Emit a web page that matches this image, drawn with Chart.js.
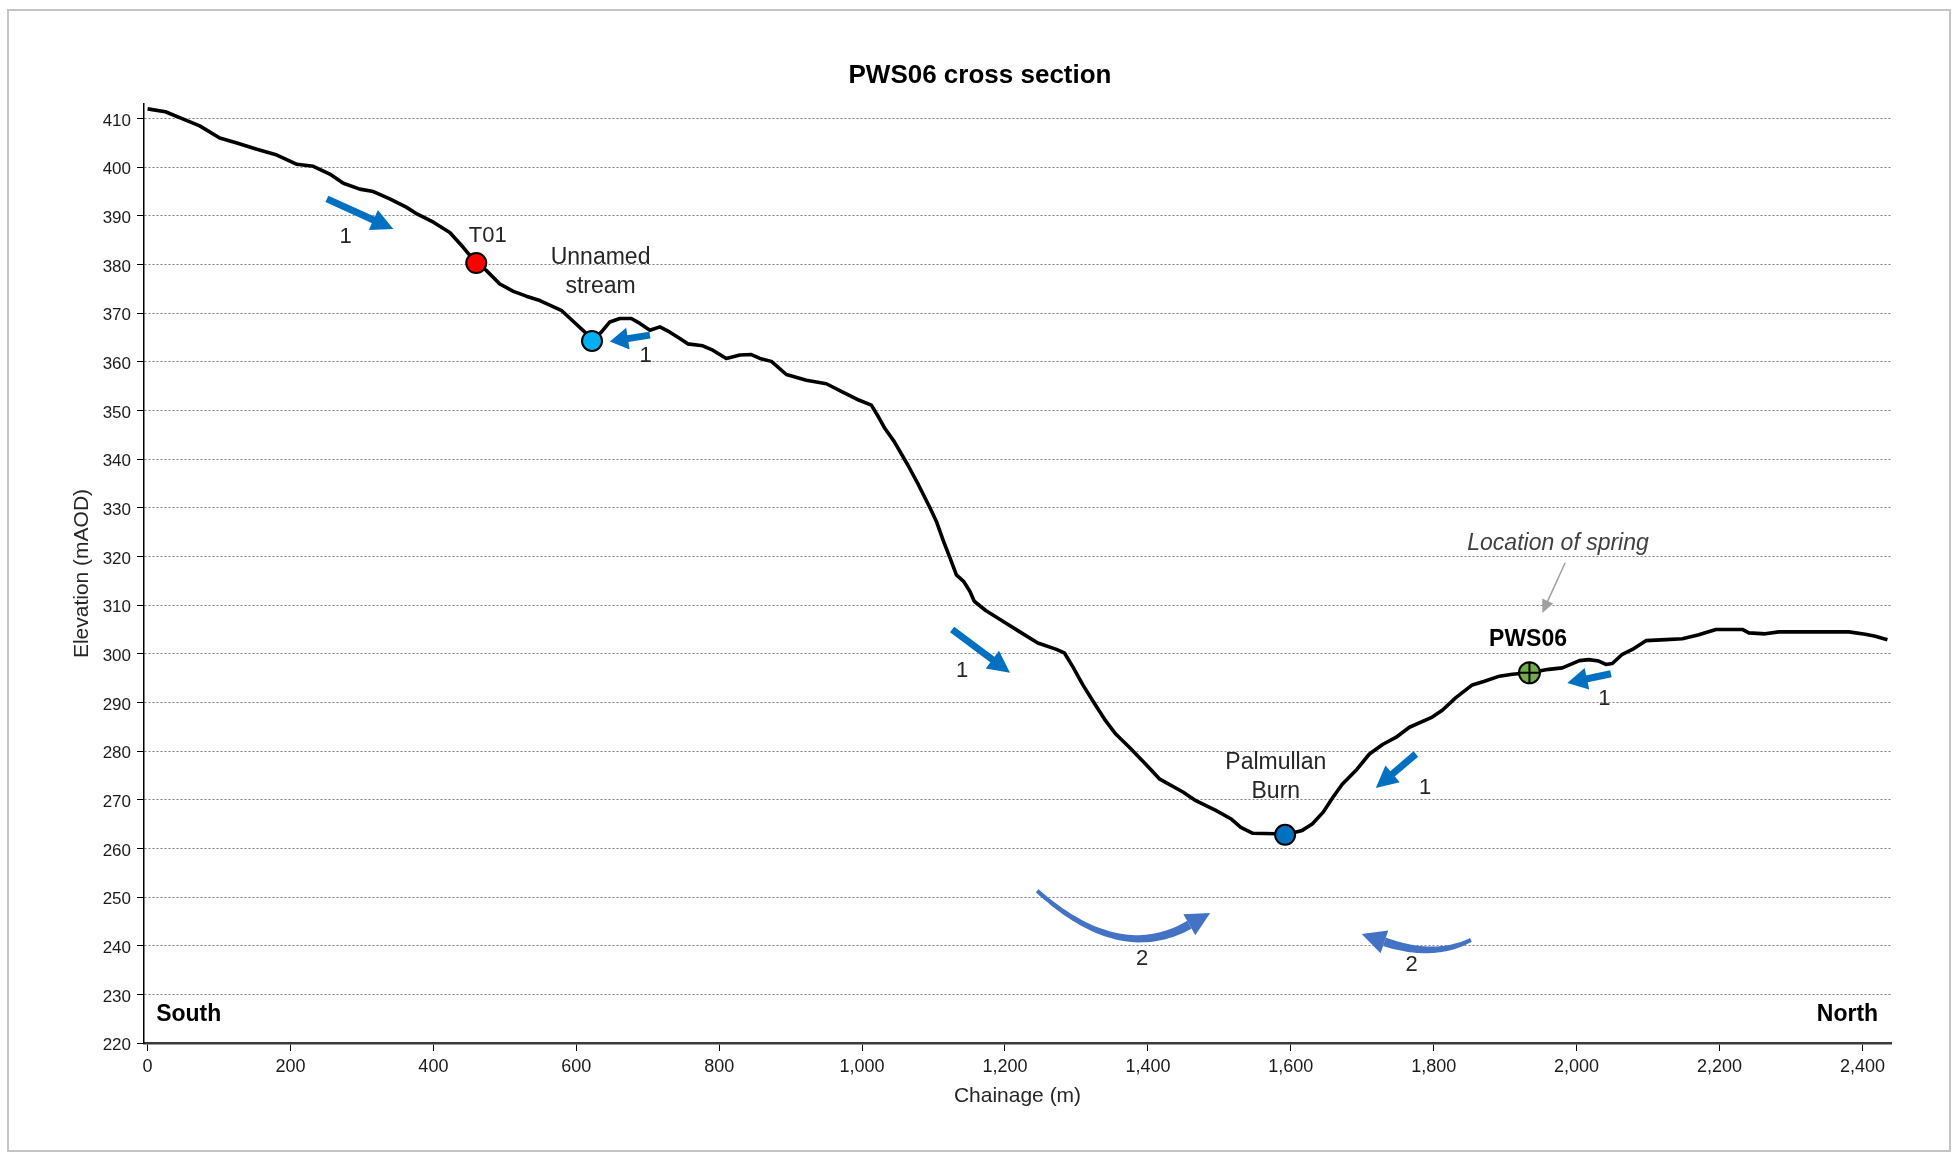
<!DOCTYPE html>
<html>
<head>
<meta charset="utf-8">
<title>PWS06 cross section</title>
<script src="https://cdn.jsdelivr.net/npm/chart.js@4.4.1/dist/chart.umd.min.js"></script>
<style>
  html, body { margin: 0; padding: 0; background: #fff; }
  #section { position: absolute; left: 0; top: 0; }
  #frame {
    position: absolute; left: 7px; top: 9px; width: 1944px; height: 1143px;
    border: 2px solid #c4c4c4; box-sizing: border-box; pointer-events: none;
  }
</style>
</head>
<body>
<canvas id="section" width="1960" height="1153"></canvas>
<div id="frame"></div>
<script>
// Ground profile along the section (chainage in m, elevation in mAOD)
const chainage = [0, 25, 50, 73, 101, 125, 153, 181, 209, 232, 255, 274, 297, 316, 339, 362, 377, 400, 423, 442,
  460, 474, 493, 512, 530, 549, 579, 596, 612, 622, 635, 647, 661, 677, 689, 703, 717, 731, 745, 756,
  777, 791, 810, 829, 845, 857, 873, 894, 922, 950, 973, 996, 1013, 1024, 1032, 1045, 1064, 1079, 1095, 1104,
  1114, 1123, 1132, 1142, 1151, 1157, 1173, 1197, 1223, 1246, 1272, 1283, 1295, 1309, 1323, 1341, 1355, 1374, 1397, 1416,
  1449, 1467, 1495, 1516, 1530, 1547, 1579, 1592, 1616, 1630, 1645, 1659, 1672, 1691, 1710, 1729, 1747, 1766, 1798, 1812,
  1831, 1854, 1870, 1892, 1910, 1934, 1961, 1980, 2004, 2017, 2031, 2041, 2050, 2064, 2078, 2097, 2125, 2148, 2171, 2195,
  2232, 2241, 2264, 2283, 2381, 2404, 2418, 2435];
const elevation = [412.0, 411.4, 409.9, 408.5, 406.0, 405.0, 403.7, 402.5, 400.6, 400.2, 398.6, 396.7, 395.5, 395.0, 393.5, 391.8, 390.4, 388.7, 386.6, 383.5,
  380.3, 378.8, 376.0, 374.5, 373.5, 372.6, 370.6, 368.3, 366.1, 364.3, 366.1, 368.2, 368.9, 368.9, 367.9, 366.5, 367.2, 366.1, 364.8, 363.7,
  363.3, 362.4, 360.7, 361.4, 361.5, 360.7, 360.1, 357.4, 356.2, 355.5, 353.8, 352.1, 351.1, 348.4, 346.3, 343.6, 338.8, 334.7, 330.0, 327.2,
  323.1, 319.7, 316.2, 314.9, 312.8, 310.8, 308.9, 306.7, 304.3, 302.2, 300.9, 300.2, 297.3, 293.6, 290.3, 286.2, 283.5, 280.8, 277.3, 274.3,
  271.6, 269.8, 267.8, 266.1, 264.3, 263.1, 263.0, 262.8, 263.7, 265.0, 267.4, 270.5, 273.2, 276.0, 279.4, 281.4, 282.8, 284.9, 287.0, 288.4,
  291.0, 293.6, 294.3, 295.4, 295.8, 296.1, 296.8, 297.1, 298.6, 298.8, 298.5, 297.8, 298.0, 299.9, 300.9, 302.7, 302.9, 303.1, 303.9, 305.0,
  305.0, 304.3, 304.1, 304.5, 304.5, 304.0, 303.6, 302.9];

// Features picked out on the section
const siteNames = ["T01", "Unnamed stream", "Palmullan Burn", "PWS06"];
const siteChainage = [460, 622, 1592, 1934];
const siteElevation = [380.3, 364.3, 262.8, 296.1];

// Axis ticks
const chainageTicks = [0, 200, 400, 600, 800, 1000, 1200, 1400, 1600, 1800, 2000, 2200, 2400];
const elevationTicks = [220, 230, 240, 250, 260, 270, 280, 290, 300, 310, 320, 330, 340, 350, 360, 370, 380, 390, 400, 410];

// Label anchors [chainage, elevation]
const siteLabelAt = [[476, 386.7], [634, 379.2], [1579, 275.4], [1932, 303.7]];
const springNote = "Location of spring";
const springNoteAt = [1974, 323.4];
const springPointer = [[1984, 318.7], [1952, 308.4]];
const endNames = ["South", "North"];
const endNameAt = [[12, 226.6], [2422, 226.6]];

// Flow directions: shallow (1) straight arrows, deep (2) curved arrows
const shallowFrom = [[251, 393.5], [703, 365.5], [1126, 305.0], [1775, 279.4], [2048, 295.9]];
const shallowTo = [[344, 387.3], [647, 364.2], [1207, 296.1], [1719, 272.4], [1987, 294.0]];
const shallowLabelAt = [[277, 386.3], [697, 362.0], [1140, 297.2], [1788, 273.2], [2039, 291.5]];
const deepPaths = [
  [[1245, 251.3], [1360, 236.1], [1458, 244.3]],
  [[1852, 241.2], [1801, 237.3], [1731, 240.8]]
];
const deepLabelAt = [[1392, 238.1], [1769, 236.7]];

const FONT = "'Liberation Sans', Arial, sans-serif";
Chart.defaults.font.family = FONT;
Chart.defaults.color = "#1a1a1a";

// "middle" baseline sits a little high for this font
const TEXT_DROP = 3.5;

function straightArrow(ctx, a, b, colour, shaft, headLen, headHalf) {
  const ang = Math.atan2(b[1] - a[1], b[0] - a[0]);
  const c = Math.cos(ang), s = Math.sin(ang);
  const bx = b[0] - c * headLen, by = b[1] - s * headLen;
  ctx.strokeStyle = colour;
  ctx.lineWidth = shaft;
  ctx.lineCap = "butt";
  ctx.beginPath();
  ctx.moveTo(a[0], a[1]);
  ctx.lineTo(bx + c * 2, by + s * 2);
  ctx.stroke();
  ctx.fillStyle = colour;
  ctx.beginPath();
  ctx.moveTo(b[0], b[1]);
  ctx.lineTo(bx - s * headHalf, by + c * headHalf);
  ctx.lineTo(bx + s * headHalf, by - c * headHalf);
  ctx.closePath();
  ctx.fill();
}

// quadratic curve that thickens towards its head
function curvedArrow(ctx, p0, cp, p2, colour) {
  const left = [], right = [];
  const n = 40;
  for (let i = 0; i <= n; i++) {
    const t = i / n, u = 1 - t;
    const x = u * u * p0[0] + 2 * t * u * cp[0] + t * t * p2[0];
    const y = u * u * p0[1] + 2 * t * u * cp[1] + t * t * p2[1];
    const dx = 2 * u * (cp[0] - p0[0]) + 2 * t * (p2[0] - cp[0]);
    const dy = 2 * u * (cp[1] - p0[1]) + 2 * t * (p2[1] - cp[1]);
    const len = Math.hypot(dx, dy) || 1;
    const w = (4 + 5 * t) / 2;
    left.push([x - dy / len * w, y + dx / len * w]);
    right.push([x + dy / len * w, y - dx / len * w]);
  }
  ctx.fillStyle = colour;
  ctx.beginPath();
  ctx.moveTo(left[0][0], left[0][1]);
  left.forEach(p => ctx.lineTo(p[0], p[1]));
  right.reverse().forEach(p => ctx.lineTo(p[0], p[1]));
  ctx.closePath();
  ctx.fill();

  const dx = p2[0] - cp[0], dy = p2[1] - cp[1];
  const len = Math.hypot(dx, dy);
  const c = dx / len, s = dy / len;
  const tip = [p2[0] + c * 24, p2[1] + s * 24];
  ctx.beginPath();
  ctx.moveTo(tip[0], tip[1]);
  ctx.lineTo(p2[0] - s * 12, p2[1] + c * 12);
  ctx.lineTo(p2[0] + s * 12, p2[1] - c * 12);
  ctx.closePath();
  ctx.fill();
}

// Labels and flow arrows placed in chainage/elevation units
const sectionNotes = {
  id: "sectionNotes",
  afterDatasetsDraw(chart) {
    const { ctx, scales: { x, y } } = chart;
    const px = p => [x.getPixelForValue(p[0]), y.getPixelForValue(p[1])];
    const text = (str, p) => ctx.fillText(str, p[0], p[1] + TEXT_DROP);
    ctx.save();
    ctx.textAlign = "center";
    ctx.textBaseline = "middle";

    // site names
    siteNames.forEach((name, i) => {
      const [cx, cy] = px(siteLabelAt[i]);
      if (name === "PWS06") {
        ctx.font = "bold 23px " + FONT;
        ctx.fillStyle = "#000";
        text(name, [cx, cy]);
        return;
      }
      ctx.font = (i === 0 ? "22px " : "23px ") + FONT;
      ctx.fillStyle = "#262626";
      const lines = i === 0 ? [name] : name.split(" ");
      lines.forEach((ln, k) => text(ln, [cx, cy + (k - (lines.length - 1) / 2) * 29.5]));
    });

    // spring note with grey pointer
    ctx.font = "italic 23px " + FONT;
    ctx.fillStyle = "#404040";
    text(springNote, px(springNoteAt));
    straightArrow(ctx, px(springPointer[0]), px(springPointer[1]), "#a0a0a0", 1.5, 13, 6);

    // shallow flow
    ctx.font = "22px " + FONT;
    shallowFrom.forEach((from, i) => {
      const a = px(from), b = px(shallowTo[i]);
      const len = Math.hypot(b[0] - a[0], b[1] - a[1]);
      straightArrow(ctx, a, b, "#0070c0", 7, Math.min(22, len * 0.45), 11);
      ctx.fillStyle = "#262626";
      text("1", px(shallowLabelAt[i]));
    });

    // deep flow
    deepPaths.forEach((path, i) => {
      curvedArrow(ctx, px(path[0]), px(path[1]), px(path[2]), "#4472c4");
      ctx.fillStyle = "#262626";
      text("2", px(deepLabelAt[i]));
    });

    // section ends
    ctx.font = "bold 23px " + FONT;
    ctx.fillStyle = "#000";
    endNames.forEach((name, i) => {
      ctx.textAlign = i === 0 ? "left" : "right";
      text(name, px(endNameAt[i]));
    });
    ctx.restore();
  }
};

const profile = chainage.map((c, i) => ({ x: c, y: elevation[i] }));
const siteColours = ["#ff0000", "#00b0f0", "#0070c0", "#70ad47"];
const siteSets = siteNames.map((name, i) => ({
  label: name,
  data: [{ x: siteChainage[i], y: siteElevation[i] }],
  showLine: false,
  pointStyle: "circle",
  pointRadius: name === "PWS06" ? 10.5 : 10,
  pointBackgroundColor: siteColours[i],
  pointBorderColor: "#000",
  pointBorderWidth: 2,
  order: 1
}));
// cross inside the spring marker
siteSets.push({
  label: "PWS06 cross",
  data: [{ x: siteChainage[3], y: siteElevation[3] }],
  showLine: false,
  pointStyle: "cross",
  pointRadius: 10.5,
  pointBorderColor: "#000",
  pointBorderWidth: 2,
  order: 0
});

new Chart(document.getElementById("section"), {
  type: "scatter",
  data: {
    datasets: [
      {
        label: "Ground profile",
        data: profile,
        showLine: true,
        borderColor: "#000",
        borderWidth: 3.6,
        borderJoinStyle: "round",
        pointRadius: 0,
        tension: 0,
        order: 2
      },
      ...siteSets
    ]
  },
  options: {
    responsive: false,
    animation: false,
    devicePixelRatio: 1,
    layout: { padding: { left: 69, right: 69, top: 0, bottom: 40 } },
    plugins: {
      legend: { display: false },
      tooltip: { enabled: false },
      title: {
        display: true,
        text: "PWS06 cross section",
        color: "#000",
        font: { size: 26, weight: "bold", lineHeight: 1.2 },
        padding: { top: 60, bottom: 12.8 }
      }
    },
    scales: {
      x: {
        type: "linear",
        min: -5,
        max: 2440,
        afterBuildTicks: s => { s.ticks = chainageTicks.map(v => ({ value: v })); },
        afterFit: s => { s.height = 70; },
        ticks: {
          font: { size: 18 },
          padding: 5.5,
          maxRotation: 0,
          autoSkip: false,
          callback: v => v.toLocaleString("en-US")
        },
        grid: { drawOnChartArea: false, drawTicks: true, tickLength: 8, tickColor: "#000", tickWidth: 1 },
        border: { display: true, color: "#3a3a3a", width: 2.5 },
        title: {
          display: true,
          text: "Chainage (m)",
          color: "#262626",
          font: { size: 21, lineHeight: 1.2 },
          padding: { top: 0, bottom: 4.6 }
        }
      },
      y: {
        type: "linear",
        min: 220,
        max: 413,
        afterBuildTicks: s => { s.ticks = elevationTicks.map(v => ({ value: v })); },
        afterFit: s => { s.width = 75; },
        ticks: { font: { size: 17 }, padding: 6, labelOffset: 2.5, autoSkip: false },
        grid: {
          drawOnChartArea: true,
          drawTicks: true,
          tickLength: 7,
          color: "#808080",
          lineWidth: 1,
          tickColor: "#000",
          tickWidth: 1,
          tickBorderDash: []
        },
        border: { display: true, color: "#000", width: 1.5, dash: [2, 2] },
        title: {
          display: true,
          text: "Elevation (mAOD)",
          color: "#262626",
          font: { size: 21, lineHeight: 1.2 },
          padding: { top: 1, bottom: 0 }
        }
      }
    }
  },
  plugins: [sectionNotes]
});
</script>
</body>
</html>
